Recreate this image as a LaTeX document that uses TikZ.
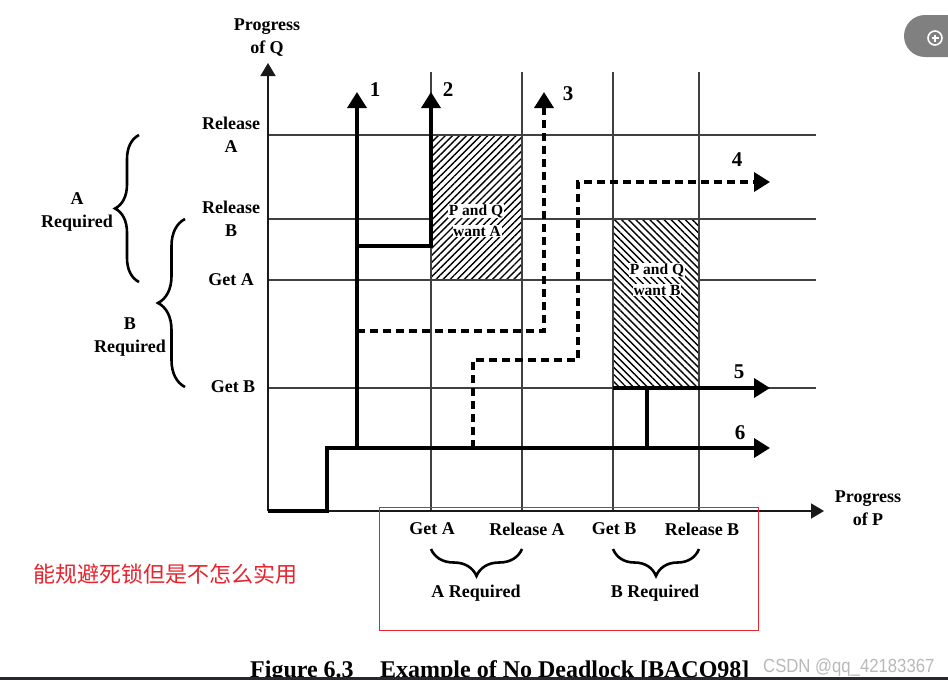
\documentclass[tikz,border=0pt]{standalone}
\usepackage{fontspec}
\setmainfont{Liberation Serif}
\newfontfamily\cjk{Noto Sans CJK SC}
\newfontfamily\wmfont{Liberation Sans}
\usetikzlibrary{arrows.meta,patterns.meta,decorations.pathreplacing}
\definecolor{markred}{RGB}{232,35,45}
\definecolor{wmgray}{RGB}{185,185,185}
\definecolor{btngray}{RGB}{128,128,128}
\definecolor{barcol}{RGB}{40,40,45}
\begin{document}
\begin{tikzpicture}[x=1pt,y=-1pt,
  gridline/.style={line width=1.5pt, black!75},
  axisline/.style={line width=1.7pt, black!90, -{Triangle[length=13pt,width=15pt]}},
  trail/.style={line width=3.5pt, black},
  tipped/.style={-{Triangle[length=16pt,width=19pt]}},
  dashtrail/.style={trail, dash pattern=on 8pt off 5pt},
  lbl/.style={font=\fontsize{18}{23}\selectfont\bfseries, align=center, inner sep=0pt},
  num/.style={font=\fontsize{21}{24}\selectfont\bfseries, inner sep=0pt},
  zone/.style={font=\fontsize{15.5}{18}\selectfont\bfseries, fill=white, inner sep=0.6pt},
  brc/.style={decorate, decoration={brace, amplitude=#1}, line width=2.6pt},
  brc/.default=26pt
]
\useasboundingbox (0,0) rectangle (948,680);
\fill[white] (0,0) rectangle (948,680);

% grid
\foreach \x in {431,522,613,699} \draw[gridline] (\x,511) -- (\x,72);
\foreach \y in {135,219,280,388} \draw[gridline] (268,\y) -- (816,\y);

% hatched regions
\fill[white] (431,135) rectangle (522,280);
\fill[pattern={Lines[angle=45,distance=5pt,line width=1.4pt]}] (431,135) rectangle (522,280);
\draw[gridline] (431,135) rectangle (522,280);
\fill[white] (613,219) rectangle (699,388);
\fill[pattern={Lines[angle=-45,distance=5pt,line width=1.4pt]}] (613,219) rectangle (699,388);
\draw[gridline] (613,219) rectangle (699,388);

% axes
\coordinate (O) at (268,511);
\coordinate (Qtip) at (268,63);
\coordinate (Ptip) at (824,511);
\draw[axisline] (O) -- (Qtip);
\draw[axisline] (O) -- (Ptip);

% trajectory points
\coordinate (s1) at (327,511);
\coordinate (s2) at (327,448);
\coordinate (t6) at (770,448);
\coordinate (j1) at (357,448);
\coordinate (t1) at (357,92);
\coordinate (j2) at (357,246);
\coordinate (k2) at (431,246);
\coordinate (t2) at (431,92);
\coordinate (j3) at (357,331);
\coordinate (k3) at (544,331);
\coordinate (t3) at (544,92);
\coordinate (j4) at (473,448);
\coordinate (k4) at (473,360);
\coordinate (l4) at (578,360);
\coordinate (m4) at (578,182);
\coordinate (t4) at (770,182);
\coordinate (j5) at (647,448);
\coordinate (k5) at (647,388);
\coordinate (h5) at (613,388);
\coordinate (t5) at (770,388);

% trajectories
\draw[trail,tipped] (O) -- (s1) -- (s2) -- (t6);
\draw[trail,tipped] (j1) -- (t1);
\draw[trail,tipped] (j2) -- (k2) -- (t2);
\draw[dashtrail,tipped] (j3) -- (k3) -- (t3);
\draw[dashtrail,tipped] (j4) -- (k4) -- (l4) -- (m4) -- (t4);
\draw[trail,tipped] (j5) -- (k5) -- (t5);
\draw[trail] (h5) -- (k5);

% numbers
\node[num] (n1) at (375,90) {1};
\node[num] (n2) at (448,90) {2};
\node[num] (n3) at (568,94) {3};
\node[num] (n4) at (737,160) {4};
\node[num] (n5) at (739,372) {5};
\node[num] (n6) at (740,433) {6};

% zone labels
\node[zone] (za1) at (476,211) {P and Q};
\node[zone] (za2) at (477,231) {want A};
\node[zone] (zb1) at (657,270) {P and Q};
\node[zone] (zb2) at (657,290) {want B};

% axis titles
\node[lbl] (tq) at (267,38) {Progress\\of Q};
\node[lbl] (tp) at (868,508) {Progress\\of P};

% Q labels
\node[lbl] (qra) at (231,135) {Release\\A};
\node[lbl] (qrb) at (231,219) {Release\\B};
\node[lbl] (qga) at (231,280) {Get A};
\node[lbl] (qgb) at (233,387) {Get B};

% P labels
\node[lbl] (pga) at (432,529) {Get A};
\node[lbl] (pra) at (527,529) {Release A};
\node[lbl] (pgb) at (614,529) {Get B};
\node[lbl] (prb) at (702,529) {Release B};

% braces left
\coordinate (bab) at (139,282);
\coordinate (bat) at (139,135);
\draw[brc=24pt] (bab) -- (bat);
\node[lbl] (areq) at (77,212) {A\\Required};
\coordinate (bbb) at (185,387);
\coordinate (bbt) at (185,219);
\draw[brc=27pt] (bbb) -- (bbt);
\node[lbl] (breq) at (130,337) {B\\Required};

% braces bottom
\coordinate (bpar) at (522,549);
\coordinate (bpal) at (431,549);
\draw[brc=27pt] (bpar) -- (bpal);
\node[lbl] (preqa) at (476,593) {A Required};
\coordinate (bpbr) at (699,549);
\coordinate (bpbl) at (613,549);
\draw[brc=27pt] (bpbr) -- (bpbl);
\node[lbl] (preqb) at (655,593) {B Required};

% red annotation
\draw[markred, line width=1pt] (379,507) rectangle (758,630);
\node[anchor=west, inner sep=0pt, text=markred, font=\cjk\fontsize{22}{22}\selectfont] (note) at (33,574) {能规避死锁但是不怎么实用};

% caption
\node[anchor=base west, inner sep=0pt, font=\fontsize{24}{24}\selectfont\bfseries] (cap) at (250,677) {Figure 6.3\hspace{1.1em}Example of No Deadlock [BACO98]};
\node[anchor=base west, inner sep=0pt, text=wmgray, font=\wmfont\fontsize{19}{19}\selectfont, xscale=0.88] (wm) at (763,672) {CSDN @qq\_42183367};
\fill[barcol] (0,677) rectangle (948,680);

% button
\fill[btngray, rounded corners=21pt] (904,15) rectangle (990,57);
\node[draw=white, circle, line width=1.6pt, minimum size=14pt, inner sep=0pt] (btnicon) at (935,38) {};
\draw[white, line width=1.6pt] (btnicon.center) ++(-3.5,0) -- ++(7,0);
\draw[white, line width=1.6pt] (btnicon.center) ++(0,-3.5) -- ++(0,7);
\end{tikzpicture}
\end{document}
